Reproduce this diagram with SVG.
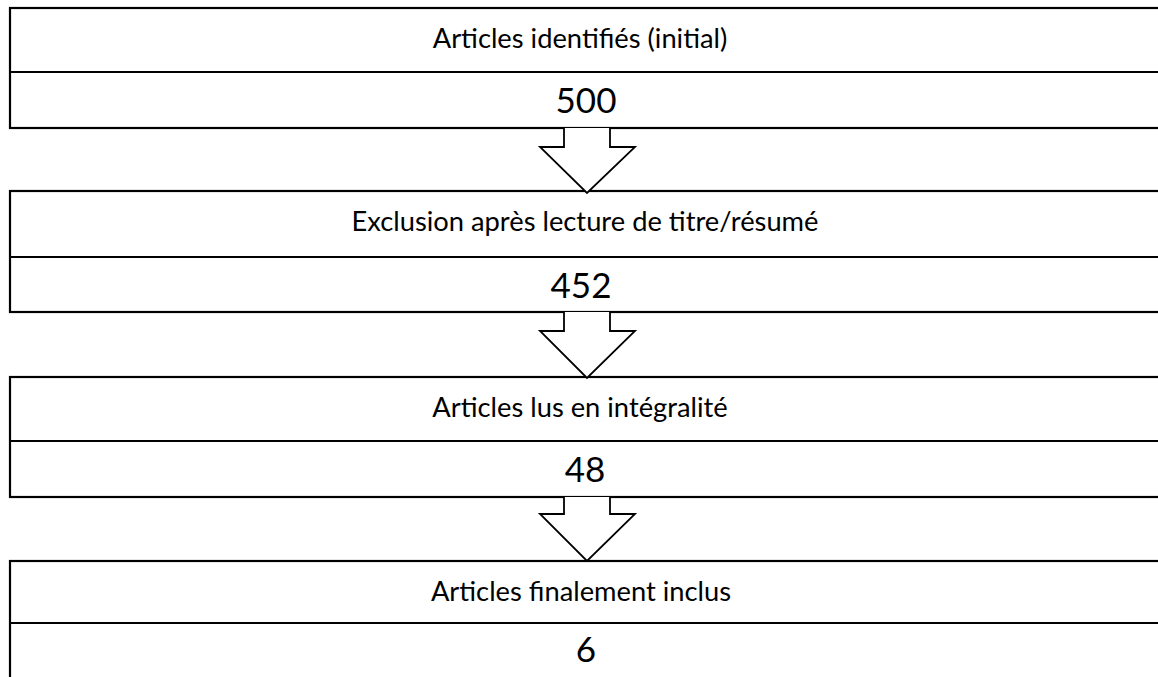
<svg xmlns="http://www.w3.org/2000/svg" width="1158" height="677" viewBox="0 0 1158 677">
<style>
.box{fill:#ffffff;stroke:#000000;stroke-width:2.2}
.div{stroke:#000000;stroke-width:2.2}
.lbl{font-family:Lato,"Liberation Sans",sans-serif;font-size:27.3px;fill:#000000;text-anchor:middle}
.num{font-family:Lato,"Liberation Sans",sans-serif;font-size:35px;fill:#000000;text-anchor:middle}
.arr{fill:#ffffff;stroke:#000000;stroke-width:1.8;stroke-linejoin:miter}
</style>
<rect width="1158" height="677" fill="#ffffff"/>
<g id="node1">
<rect class="box" x="10" y="8" width="1170" height="120"/>
<line class="div" x1="10" y1="72" x2="1180" y2="72"/>
<text class="lbl" x="580" y="48">Articles identifiés (initial)</text>
<text class="num" x="586" y="113">500</text>
</g>
<g id="node2">
<rect class="box" x="10" y="191" width="1170" height="121"/>
<line class="div" x1="10" y1="257" x2="1180" y2="257"/>
<text class="lbl" x="585" y="231">Exclusion après lecture de titre/résumé</text>
<text class="num" x="581" y="298">452</text>
</g>
<g id="node3">
<rect class="box" x="10" y="377" width="1170" height="120"/>
<line class="div" x1="10" y1="441" x2="1180" y2="441"/>
<text class="lbl" x="580" y="417">Articles lus en intégralité</text>
<text class="num" x="585" y="482">48</text>
</g>
<g id="node4">
<rect class="box" x="10" y="561" width="1170" height="130"/>
<line class="div" x1="10" y1="623" x2="1180" y2="623"/>
<text class="lbl" x="581" y="601">Articles finalement inclus</text>
<text class="num" x="586" y="662">6</text>
</g>
<g id="connectors">
<path class="arr" d="M564,128 V147 H540 L587,193 L635,147 H610 V128"/>
<path class="arr" d="M564,312 V331 H540 L587,378 L635,331 H610 V312"/>
<path class="arr" d="M564,497 V514 H540 L587,561 L635,514 H610 V497"/>
</g>
</svg>
